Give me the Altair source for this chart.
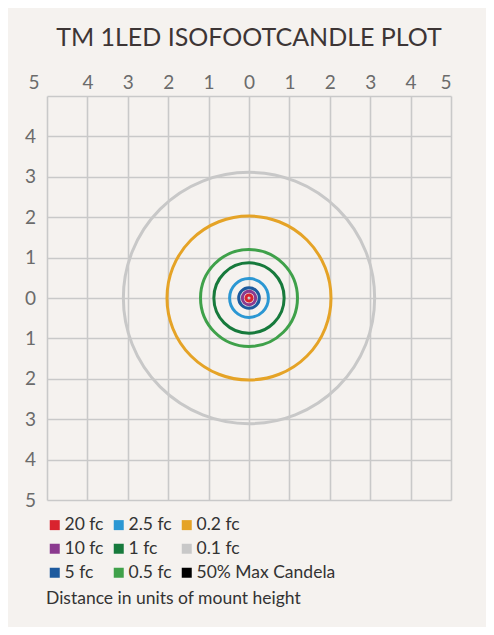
import altair as alt
import pandas as pd

# Isofootcandle levels (drawn largest first) and their radii in units of mount height
levels = ["0.1 fc", "0.2 fc", "0.5 fc", "1 fc", "2.5 fc", "5 fc", "10 fc", "20 fc"]
radii = [3.11, 2.03, 1.2, 0.87, 0.48, 0.255, 0.165, 0.075]
center_x = [0, 0, 0, 0, 0, 0, 0, 0]
center_y = [0, 0, 0, 0, 0, 0, 0, 0]

# Legend order (row by row, 3 columns) and colours
legend_order = ["20 fc", "2.5 fc", "0.2 fc",
                "10 fc", "1 fc", "0.1 fc",
                "5 fc", "0.5 fc", "50% Max Candela"]
legend_colors = ["#d9232e", "#2b97d3", "#e5a326",
                 "#8b3a8f", "#177a3c", "#c8c8c8",
                 "#1d5a9e", "#3fa14a", "#000000"]

x_ticks = [-5, -4, -3, -2, -1, 0, 1, 2, 3, 4, 5]
y_ticks = [-5, -4, -3, -2, -1, 0, 1, 2, 3, 4, 5]

df = pd.DataFrame({"level": levels, "r": radii, "x": center_x, "y": center_y})

W = 404
FONT = "Lato"

circles = alt.Chart(df).mark_point(
    filled=False, shape="circle", strokeWidth=3, opacity=1
).encode(
    x=alt.X("x:Q",
            scale=alt.Scale(domain=[-5, 5], nice=False, zero=False),
            axis=alt.Axis(orient="top", values=x_ticks, title=None,
                          labelExpr="'' + abs(datum.value)",
                          grid=True, gridColor="#c9c9c9", gridWidth=1.6,
                          ticks=False, tickSize=0, domain=False,
                          labelFont=FONT, labelFontSize=19, labelColor="#6b6b6b",
                          labelPadding=4, labelAngle=0,
                          labelOffset={"condition": {"test": "datum.value == -5", "value": -19}, "value": 0})),
    y=alt.Y("y:Q",
            scale=alt.Scale(domain=[-5, 5], nice=False, zero=False),
            axis=alt.Axis(orient="left", values=y_ticks, title=None,
                          labelExpr="datum.value == 5 ? '' : '' + abs(datum.value)",
                          grid=True, gridColor="#c9c9c9", gridWidth=1.6,
                          ticks=False, tickSize=0, domain=False,
                          labelFont=FONT, labelFontSize=19, labelColor="#6b6b6b",
                          labelAlign="center", labelBaseline="middle", labelPadding=17)),
    color=alt.Color("level:N",
                    scale=alt.Scale(domain=legend_order, range=legend_colors),
                    legend=alt.Legend(orient="none", legendX=-1, legendY=420,
                                      direction="horizontal",
                                      columns=3, symbolType="square",
                                      symbolSize=25, symbolStrokeWidth=5,
                                      symbolOpacity=1,
                                      labelFont=FONT, labelFontSize=17.5,
                                      labelColor="#333333", labelOffset=1,
                                      labelLimit=300,
                                      columnPadding=2, rowPadding=-2,
                                      title="Distance in units of mount height",
                                      titleOrient="bottom", titleAnchor="start",
                                      titleFont=FONT, titleFontSize=17.5,
                                      titleFontWeight="normal", titleColor="#333333",
                                      titlePadding=5, titleLimit=400)),
    size=alt.Size("r:Q",
                  scale=alt.Scale(type="pow", exponent=2, domain=[0, 5], range=[0, W * W]),
                  legend=None),
    order=alt.Order("r:Q", sort="descending"),
)

chart = circles.properties(
    width=W, height=W,
    title=alt.TitleParams("TM 1LED ISOFOOTCANDLE PLOT", font=FONT, fontSize=25,
                          fontWeight="normal", color="#3d3535",
                          anchor="middle", offset=22),
    autosize=alt.AutoSizeParams(type="none"),
    padding={"left": 39, "top": 88, "right": 35, "bottom": 127},
    background="#f5f2ef",
).configure_view(strokeWidth=0)

chart.save("out.html", embed_options={"renderer": "svg", "actions": False})
